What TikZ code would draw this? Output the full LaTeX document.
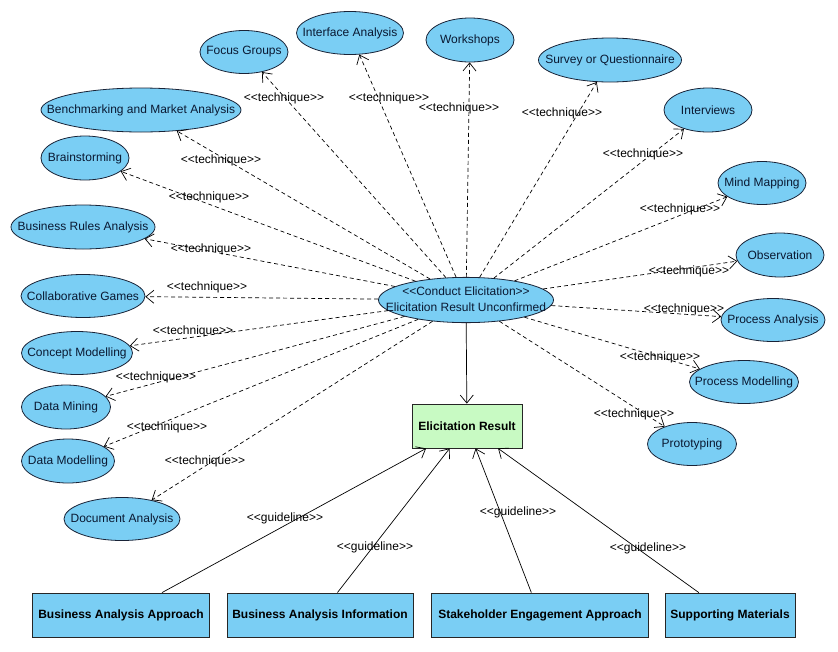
\documentclass[tikz,border=0pt]{standalone}
\usepackage{fontspec}
\setmainfont{Liberation Sans}
\usetikzlibrary{shapes.geometric,arrows.meta}

\definecolor{uc blue}{RGB}{122,206,244}
\definecolor{uc edge}{RGB}{25,35,55}
\definecolor{uc text}{RGB}{10,25,50}
\definecolor{result green}{RGB}{200,250,195}
\colorlet{box edge}{black!85}
\def\stereoT{<{}<technique>{}>}
\def\stereoG{<{}<guideline>{}>}
\tikzset{
  usecase/.style={ellipse, fill=uc blue, draw=uc edge, line width=0.8pt, inner sep=0pt, text=uc text},
  artifact/.style={rectangle, fill=uc blue, draw=box edge, line width=0.8pt, inner sep=0pt, minimum height=44pt, font=\fontsize{12}{14}\selectfont\bfseries},
  result/.style={artifact, fill=result green}
  }
\tikzstyle{technique} = [draw, line width=0.7pt, dash pattern=on 4pt off 3pt, -{Straight Barb[length=8pt,width=13pt]}]
\tikzstyle{guideline} = [draw, line width=0.7pt, -{Straight Barb[length=8pt,width=13pt]}]
\tikzstyle{stereo} = [inner sep=0pt]

\begin{document}
\begin{tikzpicture}[x=1pt, y=-1pt, font=\fontsize{12}{14}\selectfont]
  \useasboundingbox (0,0) rectangle (838,651);

  \node[usecase, minimum width=175pt, minimum height=45pt] (ce) at (466,300)
    {\makebox[0pt]{\fontsize{12}{16}\selectfont\begin{tabular}{@{}c@{}}<{}<Conduct Elicitation>{}>\\Elicitation Result Unconfirmed\end{tabular}}};
  \node[result, minimum width=110pt] (er) at (467,426) {Elicitation Result};
  \path[guideline] (ce) -- (er);

  \foreach \name/\x/\y/\w/\h/\txt/\lx/\ly in {
      focus/244/52/88/43/Focus Groups/284/98,
      iface/350/33/107/43/Interface Analysis/389/98,
      workshops/470/40/88/44/Workshops/459/108,
      survey/610/60/143/44/Survey or Questionnaire/562/113,
      interviews/708/110/88/44/Interviews/643/154,
      mindmap/762/183/88/43/Mind Mapping/680/209,
      observation/780/255/88/44/Observation/689/271,
      procana/773/320/104/43/Process Analysis/684/309,
      procmod/744/382/109/43/Process Modelling/660/357,
      proto/692/444/89/43/Prototyping/634/414,
      bench/141/110/200/44/Benchmarking and Market Analysis/221/160,
      brain/85/158/88/44/Brainstorming/209/197,
      rules/83/227/144/44/Business Rules Analysis/211/249,
      games/83/296/124/43/Collaborative Games/207/287,
      concept/77/353/111/43/Concept Modelling/193/331,
      mining/66/407/89/44/Data Mining/156/377,
      datamod/68/461/93/44/Data Modelling/167/427,
      docana/122/519/116/43/Document Analysis/205/461} {
    \node[usecase, minimum width=\w pt, minimum height=\h pt] (\name) at (\x,\y) {\makebox[0pt]{\txt}};
    \path[technique] (ce) -- (\name);
    \node[stereo] (l\name) at (\lx,\ly) {\stereoT};
  }

  \foreach \name/\x/\w/\txt/\lx/\ly in {
      baa/121/177/Business Analysis Approach/285/518,
      bai/320/186/Business Analysis Information/375/547,
      sea/540/217/Stakeholder Engagement Approach/518/512,
      sm/730/130/Supporting Materials/648/548} {
    \node[artifact, minimum width=\w pt] (\name) at (\x,615) {\txt};
    \path[guideline] (\name) -- (er);
    \node[stereo] (l\name) at (\lx,\ly) {\stereoG};
  }
\end{tikzpicture}
\end{document}
